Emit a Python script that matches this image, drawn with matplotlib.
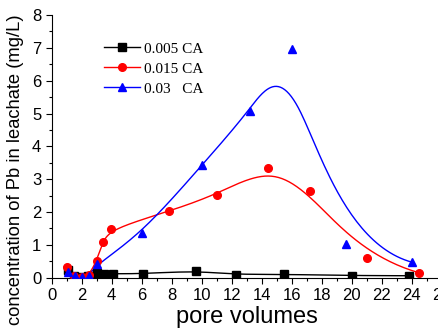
import numpy as np
import matplotlib
matplotlib.use('Agg')
import matplotlib.pyplot as plt
from matplotlib.ticker import MultipleLocator

#data###########################################################################
x_005 = [1.1, 1.5, 1.9, 2.4, 3.05, 3.5, 4.1, 6.1, 9.6, 12.3, 15.5, 20.0, 23.8]
y_005 = [0.22, 0.05, 0.03, 0.05, 0.15, 0.12, 0.12, 0.12, 0.21, 0.09, 0.11, 0.06, 0.06]

x_015 = [1.0, 1.5, 2.0, 2.5, 3.0, 3.4, 3.93, 7.82, 11.0, 14.4, 17.2, 21.0, 24.5]
y_015 = [0.32, 0.05, 0.03, 0.08, 0.52, 1.09, 1.48, 2.02, 2.53, 3.35, 2.64, 0.61, 0.15]

x_03 = [1.09, 1.55, 2.0, 2.47, 3.04, 6.02, 10.04, 13.22, 16.04, 19.6, 24.04]
y_03 = [0.18, 0.05, 0.03, 0.06, 0.42, 1.35, 3.44, 5.09, 6.96, 1.02, 0.47]

labels = ['0.005 CA', '0.015 CA', '0.03   CA']
colors = ['black', 'red', 'blue']
markers = ['s', 'o', '^']
###############################################################################

def bspline(xs, ys, k=3, num=400):
    #clamped uniform B-spline with the points as control points
    P = np.column_stack([xs, ys])
    n = len(P)
    inner = np.arange(1, n - k)
    t = np.concatenate([np.zeros(k + 1), inner, np.full(k + 1, n - k)]).astype(float)
    u = np.linspace(0, n - k, num)
    u[-1] -= 1e-9
    N = np.zeros((num, len(t) - 1))
    for i in range(len(t) - 1):
        N[:, i] = (u >= t[i]) & (u < t[i + 1])
    for d in range(1, k + 1):
        Nn = np.zeros((num, len(t) - 1 - d))
        for i in range(len(t) - 1 - d):
            a = 0.0
            if t[i + d] != t[i]:
                a = (u - t[i]) / (t[i + d] - t[i]) * N[:, i]
            b = 0.0
            if t[i + d + 1] != t[i + 1]:
                b = (t[i + d + 1] - u) / (t[i + d + 1] - t[i + 1]) * N[:, i + 1]
            Nn[:, i] = a + b
        N = Nn
    C = N @ P
    return C[:, 0], C[:, 1]

plt.rcParams['font.family'] = ['Liberation Sans', 'DejaVu Sans']

fig = plt.figure(figsize=(4.39, 3.34), dpi=100)
ax = fig.add_axes([0.1178, 0.1686, 0.888, 0.7865])

series = [(x_005, y_005), (x_015, y_015), (x_03, y_03)]
for (xs, ys), lab, c, m in zip(series, labels, colors, markers):
    cx, cy = bspline(xs, ys)
    ax.plot(cx, cy, color=c, lw=1.0, zorder=2)
    ax.plot(xs, ys, ls='none', marker=m, color=c, ms=5.5, zorder=3)
    ax.plot([], [], color=c, lw=1.0, marker=m, ms=5.5, label=lab)

ax.set_xlim(0, 26)
ax.set_ylim(0, 8)
ax.xaxis.set_major_locator(MultipleLocator(2))
ax.xaxis.set_minor_locator(MultipleLocator(1))
ax.yaxis.set_major_locator(MultipleLocator(1))
ax.yaxis.set_minor_locator(MultipleLocator(0.5))
ax.tick_params(which='major', direction='out', length=4, width=0.8, labelsize=12)
ax.tick_params(which='minor', direction='out', length=2.5, width=0.8)
ax.spines['top'].set_visible(False)
ax.spines['right'].set_visible(False)

ax.set_xlabel('pore volumes', fontsize=17, labelpad=2)
ax.set_ylabel('concentration of Pb in leachate (mg/L)', fontsize=13.2)
ax.yaxis.set_label_coords(-0.07, 0.41)

ax.legend(loc='upper left', bbox_to_anchor=(0.1, 0.95), frameon=False,
          prop={'family': 'Liberation Serif', 'size': 11},
          handlelength=2.3, handletextpad=0.3, labelspacing=0.42)

fig.savefig('out.png', dpi=100)
